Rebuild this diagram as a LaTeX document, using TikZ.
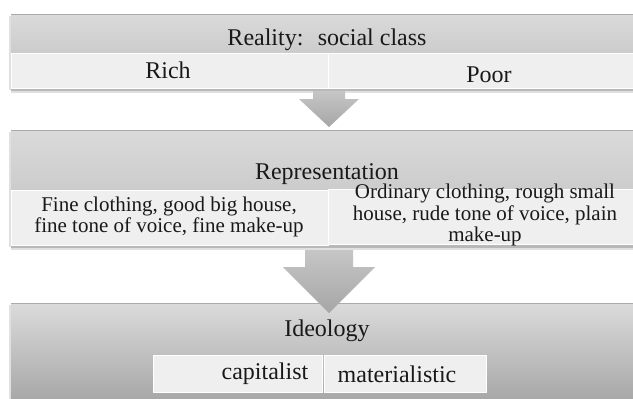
\documentclass[tikz,border=0pt]{standalone}
\usepackage{fontspec}
\setmainfont{Liberation Serif}
\definecolor{hdtop}{HTML}{DADADA}
\definecolor{hdbot}{HTML}{CCCCCC}
\definecolor{cellgray}{HTML}{EFEFEF}
\definecolor{btop}{HTML}{DBDBDB}
\definecolor{bbot}{HTML}{A8A8A8}
\definecolor{arrtop}{HTML}{C6C6C6}
\definecolor{arrbot}{HTML}{A6A6A6}
\definecolor{rimline}{HTML}{ABABAB}
\begin{document}
\begin{tikzpicture}[x=1pt,y=-1pt,
  cell/.style={fill=cellgray, draw=white, line width=0.6pt, inner sep=0pt, anchor=north west},
  lbl/.style={font=\fontsize{24}{26}\selectfont, text=black!90, inner sep=0pt, align=center},
  longlbl/.style={font=\fontsize{21}{21.6}\selectfont, text=black!90, inner sep=0pt, align=center},
  rim/.style={draw=rimline, line width=0.7pt},
  shadowA/.style={fill=black!28},
  shadowB/.style={fill=black!12},
]
\useasboundingbox (0,0) rectangle (633,399);
\clip (0,0) rectangle (633,399);
\fill[white] (0,0) rectangle (633,399);

% ---- band 1: Reality
\fill[shadowB] (9,16) rectangle (11,90);
\fill[shadowA] (11,88) rectangle (640,91);
\fill[shadowB] (11,91) rectangle (640,93);
\shade[top color=hdtop, bottom color=hdbot] (11,14) rectangle (640,53);
\draw[rim] (11,14) -- (640,14);
\node[cell, minimum width=317pt, minimum height=35pt] (richcell) at (11,53) {};
\node[cell, minimum width=311pt, minimum height=35pt] (poorcell) at (328,53) {};
\node[lbl] (reality) at (327,40) {Reality:\hspace{0.6em}social class};
\node[lbl] (rich) at (168,70) {Rich};
\node[lbl] (poor) at (489,75) {Poor};

% ---- arrow 1
\shade[top color=arrtop, bottom color=arrbot]
  (313,91) -- (345,91) -- (345,99) -- (359,99) -- (329,127) -- (299,99) -- (313,99) -- cycle;

% ---- band 2: Representation
\fill[shadowB] (9,132) rectangle (11,247);
\fill[shadowA] (11,245) rectangle (640,248);
\fill[shadowB] (11,248) rectangle (640,250);
\shade[top color=hdtop, bottom color=hdbot] (11,130) rectangle (640,190);
\draw[rim] (11,130) -- (640,130);
\node[cell, minimum width=317pt, minimum height=55pt] (finecell) at (11,190) {};
\node[cell, minimum width=311pt, minimum height=55pt] (ordcell) at (328,189) {};
\node[lbl] (repr) at (327,174) {Representation};
\node[longlbl] (fine) at (169,217) {Fine clothing, good big house,\\fine tone of voice, fine make-up};
\node[longlbl] (ordinary) at (485,215) {Ordinary clothing, rough small\\house, rude tone of voice, plain\\make-up};

% ---- band 3: Ideology
\fill[shadowB] (9,305) rectangle (11,399);
\shade[top color=btop, bottom color=bbot] (11,303) rectangle (640,399);
\draw[rim] (11,303) -- (640,303);
\node[cell, minimum width=169pt, minimum height=37pt] (capcell) at (153,355) {};
\node[cell, minimum width=162pt, minimum height=37pt] (matcell) at (324,355) {};
\node[lbl] (ideology) at (327,331) {Ideology};
\node[lbl] (capitalist) at (265,374) {capitalist};
\node[lbl] (materialistic) at (397,374) {materialistic};

% ---- arrow 2
\shade[top color=arrtop, bottom color=arrbot]
  (305,250) -- (353,250) -- (353,267) -- (375,267) -- (329,313) -- (283,267) -- (305,267) -- cycle;
\end{tikzpicture}
\end{document}
